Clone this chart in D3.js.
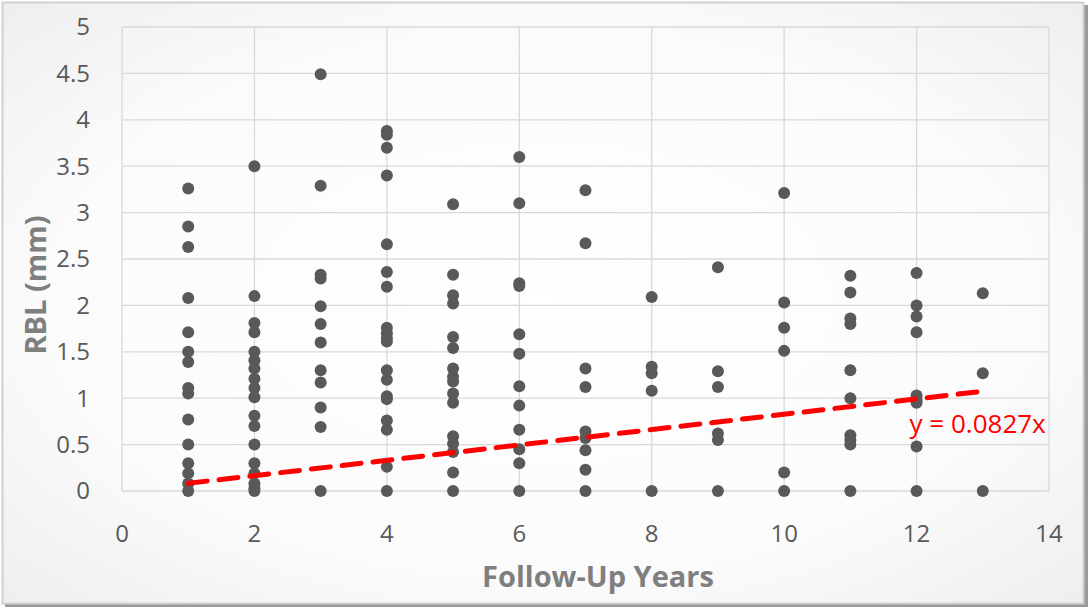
<!DOCTYPE html>
<html>
<head>
<meta charset="utf-8">
<script src="https://cdn.jsdelivr.net/npm/d3@7"></script>
<style>
  html, body { margin: 0; padding: 0; background: #ffffff; }
  svg { display: block; }
  .tick-label { font-family: "Open Sans", sans-serif; fill: #595959; }
  .axis-title { font-family: "Open Sans", sans-serif; font-weight: bold; fill: #7f7f7f; }
</style>
</head>
<body>
<div id="chart"></div>
<script>
// --- data ---
const years = [1, 2, 3, 4, 5, 6, 7, 8, 9, 10, 11, 12, 13];

// RBL (mm) readings per follow-up year, same order as years
const rblByYear = [
  [3.26, 2.85, 2.63, 2.08, 1.71, 1.50, 1.39, 1.11, 1.05, 0.77, 0.50, 0.30, 0.19, 0.08, 0],
  [3.50, 2.10, 1.81, 1.71, 1.50, 1.41, 1.32, 1.21, 1.11, 1.01, 0.81, 0.70, 0.50, 0.30, 0.19, 0.08, 0.03, 0],
  [4.49, 3.29, 2.33, 2.29, 1.99, 1.80, 1.60, 1.30, 1.17, 0.90, 0.69, 0],
  [3.88, 3.84, 3.70, 3.40, 2.66, 2.36, 2.20, 1.76, 1.70, 1.65, 1.61, 1.30, 1.20, 1.02, 0.99, 0.76, 0.66, 0.26, 0],
  [3.09, 2.33, 2.11, 2.02, 1.66, 1.54, 1.32, 1.23, 1.18, 1.05, 0.95, 0.59, 0.51, 0.42, 0.20, 0],
  [3.60, 3.10, 2.24, 2.21, 1.69, 1.48, 1.13, 0.92, 0.66, 0.45, 0.30, 0],
  [3.24, 2.67, 1.32, 1.12, 0.64, 0.57, 0.44, 0.23, 0],
  [2.09, 1.34, 1.27, 1.08, 0],
  [2.41, 1.29, 1.12, 0.62, 0.55, 0],
  [3.21, 2.03, 1.76, 1.51, 0.20, 0],
  [2.32, 2.14, 1.86, 1.80, 1.30, 1.00, 0.60, 0.55, 0.50, 0],
  [2.35, 2.00, 1.88, 1.71, 1.03, 0.98, 0.95, 0.48, 0],
  [2.13, 1.27, 0]
];

const xTicks = [0, 2, 4, 6, 8, 10, 12, 14];
const yTicks = [0, 0.5, 1, 1.5, 2, 2.5, 3, 3.5, 4, 4.5, 5];

const trendSlope = 0.0827;
const trendLabel = "y = 0.0827x";

// --- layout ---
const W = 1090, H = 608;
const margin = { top: 27, right: 41, bottom: 117, left: 122 };
const plotW = W - margin.left - margin.right;
const plotH = H - margin.top - margin.bottom;

const svg = d3.select("#chart")
  .append("svg")
  .attr("width", W)
  .attr("height", H);

// background + frame
const defs = svg.append("defs");
const grad = defs.append("radialGradient")
  .attr("id", "bg")
  .attr("cx", "50%").attr("cy", "50%").attr("r", "75%");
grad.append("stop").attr("offset", "0%").attr("stop-color", "#ffffff");
grad.append("stop").attr("offset", "60%").attr("stop-color", "#fbfbfb");
grad.append("stop").attr("offset", "100%").attr("stop-color", "#ececec");

// shadow on right / bottom
svg.append("rect")
  .attr("x", 5).attr("y", 5)
  .attr("width", W - 7).attr("height", H - 6)
  .attr("fill", "#9a9a9a");

svg.append("rect")
  .attr("x", 2.5).attr("y", 2.5)
  .attr("width", W - 9).attr("height", H - 7)
  .attr("fill", "url(#bg)")
  .attr("stroke", "#d0d0d0")
  .attr("stroke-width", 2);

const chart = svg.append("g")
  .attr("transform", `translate(${margin.left}, ${margin.top})`);

// --- scales ---
const x = d3.scaleLinear().domain([0, 14]).range([0, plotW]);
const y = d3.scaleLinear().domain([0, 5]).range([plotH, 0]);

// --- gridlines ---
chart.append("g")
  .attr("class", "grid-x")
  .selectAll("line")
  .data(xTicks)
  .enter().append("line")
  .attr("x1", d => x(d)).attr("x2", d => x(d))
  .attr("y1", 0).attr("y2", plotH)
  .attr("stroke", "#d9d9d9")
  .attr("stroke-width", 1.3);

chart.append("g")
  .attr("class", "grid-y")
  .selectAll("line")
  .data(yTicks)
  .enter().append("line")
  .attr("x1", 0).attr("x2", plotW)
  .attr("y1", d => y(d)).attr("y2", d => y(d))
  .attr("stroke", "#d9d9d9")
  .attr("stroke-width", 1.3);

// --- tick labels ---
chart.append("g")
  .selectAll("text")
  .data(xTicks)
  .enter().append("text")
  .attr("class", "tick-label")
  .attr("x", d => x(d))
  .attr("y", plotH + 51)
  .attr("text-anchor", "middle")
  .style("font-size", "24px")
  .text(d => d);

chart.append("g")
  .selectAll("text")
  .data(yTicks)
  .enter().append("text")
  .attr("class", "tick-label")
  .attr("x", -32)
  .attr("y", d => y(d))
  .attr("dy", "0.35em")
  .attr("text-anchor", "end")
  .style("font-size", "24px")
  .text(d => d);

// --- axis titles ---
svg.append("text")
  .attr("class", "axis-title")
  .attr("x", 598)
  .attr("y", 587)
  .attr("text-anchor", "middle")
  .style("font-size", "29px")
  .text("Follow-Up Years");

svg.append("text")
  .attr("class", "axis-title")
  .attr("transform", "translate(46, 285) rotate(-90)")
  .attr("text-anchor", "middle")
  .style("font-size", "29px")
  .text("RBL (mm)");

// --- points ---
const points = [];
years.forEach((yr, i) => {
  rblByYear[i].forEach(v => points.push({ year: yr, rbl: v }));
});

chart.append("g")
  .attr("class", "points")
  .selectAll("circle")
  .data(points)
  .enter().append("circle")
  .attr("cx", d => x(d.year))
  .attr("cy", d => y(d.rbl))
  .attr("r", 6)
  .attr("fill", "#595959");

// --- linear trend (through origin) ---
const xMin = d3.min(years), xMax = d3.max(years);
chart.append("line")
  .attr("x1", x(xMin)).attr("y1", y(trendSlope * xMin))
  .attr("x2", x(xMax)).attr("y2", y(trendSlope * xMax))
  .attr("stroke", "#ff0000")
  .attr("stroke-width", 5)
  .attr("stroke-linecap", "round")
  .attr("stroke-dasharray", "19,12");

chart.append("text")
  .attr("x", x(12) - 7)
  .attr("y", y(0.625))
  .attr("fill", "#ff0000")
  .style("font-family", "'Open Sans', sans-serif")
  .style("font-size", "26px")
  .text(trendLabel);
</script>
</body>
</html>
